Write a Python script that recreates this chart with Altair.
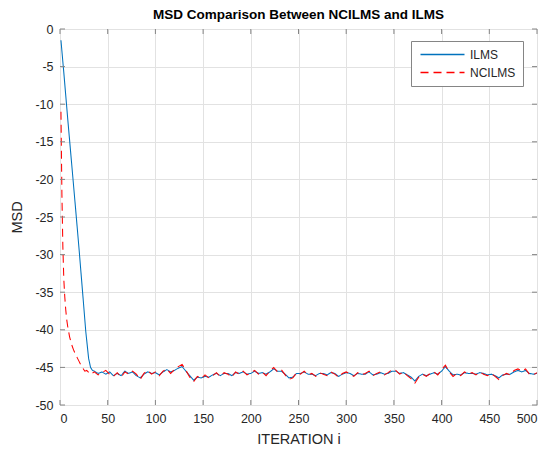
import altair as alt
import pandas as pd

# ---------------- data ----------------
ilms_iter = [1, 4, 8, 12, 16, 20, 24, 27, 30, 32, 34] + list(range(36, 501, 4))
ilms_msd = [-1.5, -5.8, -11.8, -17.6, -23.4, -29.3, -35.5, -40.2, -43.8, -45.0, -45.4,
            -45.5, -45.8, -45.6, -45.9, -45.6, -46.1, -45.8, -46.1, -45.5, -45.8,
            -45.6, -46.1, -46.4, -45.9, -45.6, -45.8, -45.7, -46.0, -45.6, -45.3,
            -45.6, -45.4, -45.1, -44.9, -45.5, -46.1, -46.7, -46.3, -46.4, -46.2,
            -46.3, -46.0, -45.8, -46.1, -45.8, -45.8, -46.1, -45.7, -45.8, -45.6,
            -45.9, -45.8, -45.5, -45.8, -45.7, -45.9, -45.6, -45.2, -45.5, -45.5,
            -45.9, -46.4, -46.3, -45.8, -45.8, -45.6, -45.9, -45.9, -46.1, -45.8,
            -45.8, -46.0, -45.7, -45.8, -46.2, -45.9, -45.7, -45.8, -46.1, -45.8,
            -45.9, -45.9, -45.6, -46.0, -45.9, -45.7, -45.9, -45.8, -45.5, -45.5,
            -45.8, -45.7, -46.0, -46.3, -46.8, -46.2, -45.9, -46.1, -45.9, -45.7,
            -45.9, -45.5, -44.9, -45.5, -46.0, -45.9, -46.0, -45.7, -45.8, -45.8,
            -45.9, -45.7, -45.8, -46.0, -45.9, -46.1, -46.4, -46.0, -45.9, -45.9,
            -45.6, -45.4, -45.6, -45.4, -45.8, -45.9, -45.8]

ncilms_iter = [1, 2, 3, 4, 5, 6, 7, 8, 10, 12, 14, 16, 18, 20, 22, 24, 26] + list(range(28, 501, 4))
ncilms_msd = [-11.0, -22.0, -29.0, -33.3, -35.6, -37.3, -38.6, -39.5, -40.9, -41.9, -42.6,
              -43.2, -43.7, -44.2, -44.7, -45.1, -45.5,
              -45.4, -45.9, -45.6, -46.0, -45.7, -45.4, -45.9, -46.2, -45.7, -46.3,
              -45.6, -45.9, -45.5, -45.9, -46.6, -45.8, -45.4, -45.9, -45.6, -46.1,
              -45.5, -45.2, -45.8, -45.3, -44.9, -44.6, -45.4, -46.3, -46.9, -46.2,
              -46.5, -46.0, -46.4, -46.1, -45.7, -46.2, -45.7, -45.9, -46.3, -45.6,
              -45.9, -45.5, -46.0, -45.7, -45.4, -45.9, -45.6, -46.1, -45.5, -45.0,
              -45.6, -45.3, -46.0, -46.6, -46.4, -45.7, -45.9, -45.5, -46.0, -45.8,
              -46.2, -45.7, -45.9, -46.1, -45.6, -45.9, -46.3, -45.8, -45.6, -45.9,
              -46.2, -45.7, -46.0, -45.8, -45.5, -46.1, -45.8, -45.6, -46.0, -45.7,
              -45.3, -45.4, -45.9, -45.6, -46.1, -46.5, -47.1, -46.3, -45.9, -46.2,
              -45.8, -45.6, -46.0, -45.3, -44.7, -45.6, -46.2, -45.8, -46.1, -45.6,
              -45.9, -45.7, -46.0, -45.6, -45.9, -46.1, -45.8, -46.2, -46.6, -46.1,
              -45.8, -46.0, -45.4, -45.2, -45.5, -45.2, -45.9, -46.0, -45.7]

series_names = ["ILMS", "NCILMS"]
series_colors = ["#0072BD", "#FF0000"]
x_ticks = list(range(0, 501, 50))
y_ticks = list(range(-50, 1, 5))

# ---------------- build tables ----------------
rows = [{"i": a, "msd": b, "alg": "ILMS"} for a, b in zip(ilms_iter, ilms_msd)]
rows += [{"i": a, "msd": b, "alg": "NCILMS"} for a, b in zip(ncilms_iter, ncilms_msd)]
df = pd.DataFrame(rows)
xt = pd.DataFrame({"t": x_ticks})
yt = pd.DataFrame({"t": y_ticks})

W, H = 477, 376
FONT = "Liberation Sans"
BOX = "#858585"
TXT = "#262626"

xscale = alt.Scale(domain=[0, 500], nice=False, zero=False)
yscale = alt.Scale(domain=[-50, 0], nice=False, zero=False)

xaxis = alt.Axis(values=x_ticks, title="ITERATION i", grid=True, gridColor="#e2e2e2",
                 domain=False, ticks=False, labelPadding=7, labelFontSize=12.5,
                 labelColor=TXT, titleFontSize=14.5, titleFontWeight="normal",
                 titleColor=TXT, titlePadding=8, labelFont=FONT, titleFont=FONT,
                 labelExpr="datum.value + ''")
yaxis = alt.Axis(values=y_ticks, title="MSD", grid=True, gridColor="#e2e2e2",
                 domain=False, ticks=False, labelPadding=7, labelFontSize=12.5,
                 labelColor=TXT, titleFontSize=14.5, titleFontWeight="normal",
                 titleColor=TXT, titlePadding=10, labelFont=FONT, titleFont=FONT,
                 labelExpr="datum.value + ''")

legend = alt.Legend(title=None, orient="none", legendX=351, legendY=12,
                    symbolType="M-4,0L4,0", symbolSize=121, symbolStrokeWidth=1.3,
                    symbolOffset=18, labelFontSize=12, labelFont=FONT, labelColor=TXT,
                    labelOffset=21, padding=7, rowPadding=5, strokeColor=BOX,
                    fillColor="white")

lines = alt.Chart(df).mark_line(strokeWidth=1.05, clip=True).encode(
    x=alt.X("i:Q", scale=xscale, axis=xaxis),
    y=alt.Y("msd:Q", scale=yscale, axis=yaxis),
    color=alt.Color("alg:N", scale=alt.Scale(domain=series_names, range=series_colors),
                    legend=legend),
    strokeDash=alt.StrokeDash("alg:N", scale=alt.Scale(domain=series_names,
                                                       range=[[1, 0], [8, 5]]),
                              legend=legend),
    order=alt.Order("i:Q"),
)

tick_len = 5
xb = alt.Chart(xt).mark_rule(color=BOX, strokeWidth=1).encode(
    x=alt.X("t:Q", scale=xscale, axis=xaxis), y=alt.value(H), y2=alt.value(H - tick_len))
xtop = alt.Chart(xt).mark_rule(color=BOX, strokeWidth=1).encode(
    x=alt.X("t:Q", scale=xscale, axis=xaxis), y=alt.value(0), y2=alt.value(tick_len))
yl = alt.Chart(yt).mark_rule(color=BOX, strokeWidth=1).encode(
    y=alt.Y("t:Q", scale=yscale, axis=yaxis), x=alt.value(0), x2=alt.value(tick_len))
yr = alt.Chart(yt).mark_rule(color=BOX, strokeWidth=1).encode(
    y=alt.Y("t:Q", scale=yscale, axis=yaxis), x=alt.value(W), x2=alt.value(W - tick_len))

chart = alt.layer(lines, xb, xtop, yl, yr).properties(
    width=W, height=H,
    title=alt.Title("MSD Comparison Between NCILMS and ILMS", fontSize=13.5,
                    fontWeight="bold", font=FONT, color="#000000", offset=2,
                    anchor="middle"),
    autosize=alt.AutoSizeParams(type="none"),
    padding={"left": 52, "top": 21, "right": 1, "bottom": 41},
).configure_view(stroke=BOX, strokeWidth=1.4).configure(background="white")

chart.save("out.html", embed_options={"renderer": "svg", "actions": False})
